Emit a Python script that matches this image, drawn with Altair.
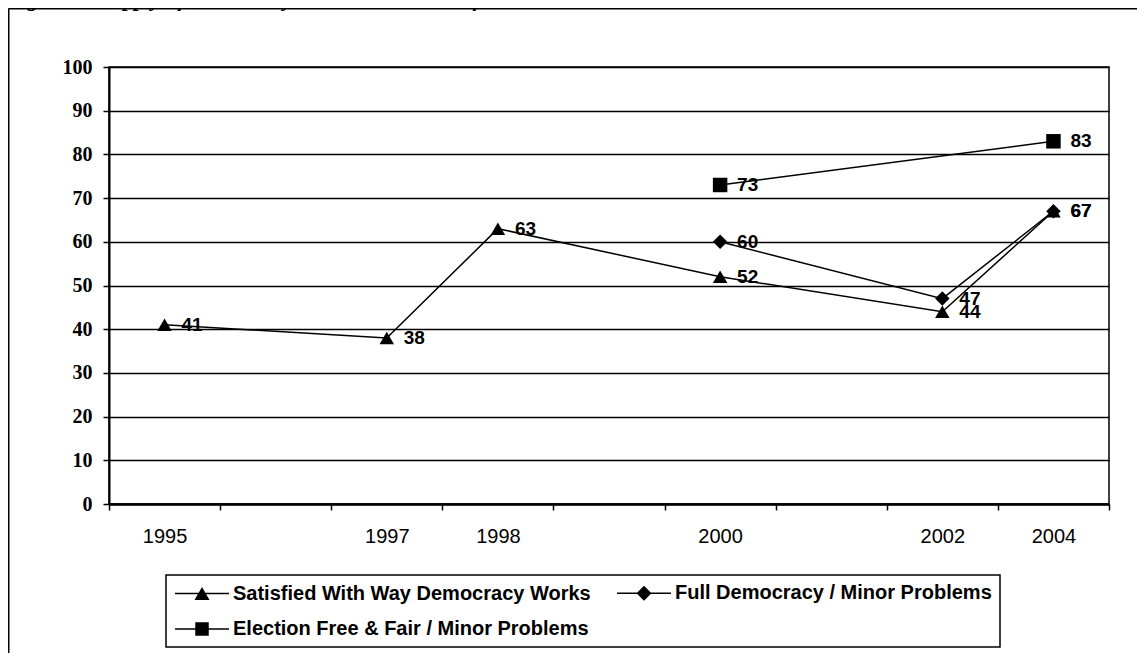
import altair as alt
import pandas as pd

# ---- data ----
categories = ["1995", "gap1", "1997", "1998", "gap2", "2000", "gap3", "2002", "2004"]
series_names = [
    "Satisfied With Way Democracy Works",
    "Full Democracy / Minor Problems",
    "Election Free & Fair / Minor Problems",
]
satisfied_years = ["1995", "1997", "1998", "2000", "2002", "2004"]
satisfied_values = [41, 38, 63, 52, 44, 67]
full_years = ["2000", "2002", "2004"]
full_values = [60, 47, 67]
election_years = ["2000", "2004"]
election_values = [73, 83]
y_ticks = [0, 10, 20, 30, 40, 50, 60, 70, 80, 90, 100]
title_text = "Figure 4: Supply of Democracy over Time, South Africa"

rows = []
for name, yrs, vals in [
    (series_names[0], satisfied_years, satisfied_values),
    (series_names[1], full_years, full_values),
    (series_names[2], election_years, election_values),
]:
    for yr, v in zip(yrs, vals):
        rows.append({"series": name, "year": yr, "value": v})
df = pd.DataFrame(rows)

marker_shapes = ["triangle-up", "diamond", "square"]
# legend symbols: marker plus a thin filled bar standing for the line
legend_shapes = [
    "M-3.6,-0.1H3.6V0.1H-3.6ZM0,-0.87L1,0.87L-1,0.87Z",
    "M-3.6,-0.1H3.6V0.1H-3.6ZM-1,0L0,-1L1,0L0,1Z",
    "M-3.6,-0.1H3.6V0.1H-3.6ZM-0.9,-0.9H0.9V0.9H-0.9Z",
]

x_enc = alt.X(
    "year:O",
    scale=alt.Scale(type="band", domain=categories, paddingInner=0, paddingOuter=0),
    axis=alt.Axis(
        title=None,
        labelExpr="indexof(datum.label, 'gap') >= 0 ? '' : datum.label",
        tickBand="extent",
        labelAngle=0,
        labelFont="Liberation Sans",
        labelFontSize=20,
        labelColor="black",
        labelPadding=16,
        tickColor="black",
        tickSize=6,
        tickWidth=1.5,
        domainColor="black",
        domainWidth=2.5,
        grid=False,
    ),
)
y_enc = alt.Y(
    "value:Q",
    scale=alt.Scale(domain=[0, 100], nice=False),
    axis=alt.Axis(
        title=None,
        values=y_ticks,
        labelFont="Liberation Serif",
        labelFontWeight="bold",
        labelFontSize=20,
        labelColor="black",
        labelPadding=11,
        tickColor="black",
        tickSize=6,
        tickWidth=1.5,
        domainColor="black",
        domainWidth=2,
        grid=True,
        gridColor="black",
        gridWidth=1.5,
    ),
)

base = alt.Chart(df).encode(x=x_enc, y=y_enc)

lines = base.mark_line(color="black", strokeWidth=1.5).encode(detail="series:N")

points = base.mark_point(filled=True, color="black", opacity=1, size=210).encode(
    shape=alt.Shape(
        "series:N",
        scale=alt.Scale(domain=series_names, range=marker_shapes),
        legend=None,
    )
)

legend_layer = base.mark_point(filled=True, color="black", opacity=0, size=225).encode(
    shape=alt.Shape(
        "series:N",
        scale=alt.Scale(domain=series_names, range=legend_shapes),
        legend=alt.Legend(
            title=None,
            orient="none",
            direction="horizontal",
            legendX=57,
            legendY=508,
            columns=2,
            gridAlign="all",
            columnPadding=23,
            rowPadding=15,
            padding=8,
            strokeColor="black",
            symbolSize=225,
            symbolOffset=18,
            labelOffset=21,
            symbolFillColor="black",
            symbolOpacity=1,
            labelFont="Liberation Sans",
            labelFontWeight="bold",
            labelFontSize=20,
            labelColor="black",
            labelLimit=700,
        ),
    )
)

labels = base.mark_text(
    align="left", baseline="middle", dx=17,
    font="Liberation Sans", fontWeight="bold", fontSize=19, color="black",
).encode(text="value:Q")

frame_df = pd.DataFrame({"k": [0]})
frame_left = alt.Chart(frame_df).mark_rule(color="black", strokeWidth=2).encode(
    x=alt.value(-100.5), y=alt.value(-58.5), y2=alt.value(700)
)
frame_top = alt.Chart(frame_df).mark_rule(color="black", strokeWidth=2).encode(
    x=alt.value(-100.5), x2=alt.value(1100), y=alt.value(-58.5)
)
title_mark = alt.Chart(pd.DataFrame({"t": [title_text]})).mark_text(
    align="left", baseline="alphabetic", font="Liberation Serif",
    fontWeight="bold", fontStyle="italic", fontSize=22, color="black",
).encode(x=alt.value(-102), y=alt.value(-61), text="t:N")

chart = (
    alt.layer(lines, points, legend_layer, labels, frame_left, frame_top, title_mark)
    .resolve_scale(shape="independent")
    .properties(
        width=1000,
        height=437,
        autosize=alt.AutoSizeParams(type="none"),
        padding={"left": 101, "top": 59, "right": 28, "bottom": 149},
    )
    .configure_view(stroke="black", strokeWidth=1.5)
    .configure_legend(strokeWidth=1.5)
)

chart.save("out.html", embed_options={"renderer": "svg", "actions": False})
